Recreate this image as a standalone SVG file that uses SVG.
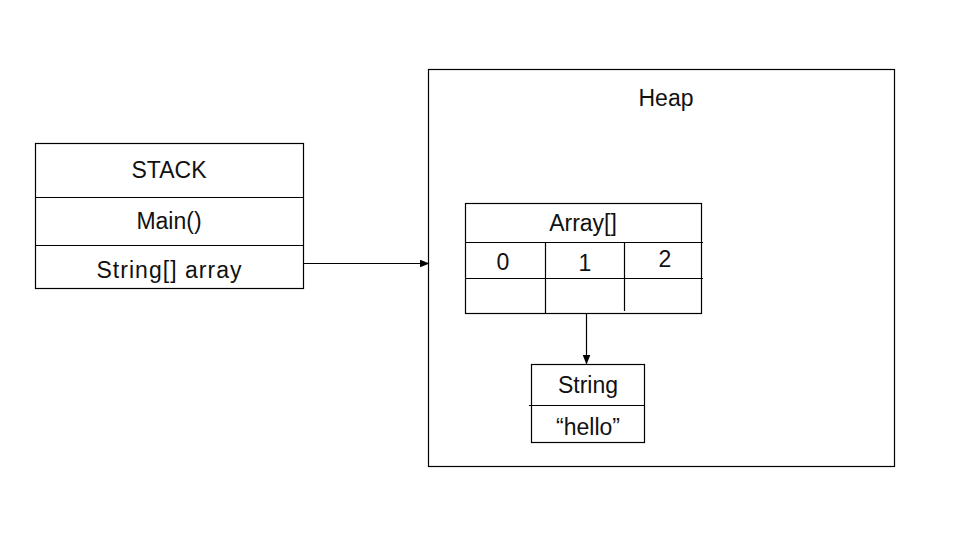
<svg xmlns="http://www.w3.org/2000/svg" width="971" height="548" viewBox="0 0 971 548">
<style>
.b{fill:#fff;stroke:#000;stroke-width:1.2}
.l{stroke:#000;stroke-width:1.2;fill:none}
text{font-family:"Liberation Sans","Noto Sans CJK SC",sans-serif;font-size:23px;fill:#111;text-anchor:middle}
</style>
<defs>
<marker id="ah" markerWidth="10" markerHeight="8" refX="9" refY="4" orient="auto" markerUnits="userSpaceOnUse">
<path d="M0,0 L10,4 L0,8 Z" fill="#000"/>
</marker>
</defs>
<rect width="971" height="548" fill="#fff"/>
<g id="heap">
<rect class="b" x="428.5" y="69.5" width="466" height="397"/>
<text x="666" y="106">Heap</text>
</g>
<g id="stack">
<rect class="b" x="35.5" y="143.5" width="268" height="145"/>
<line class="l" x1="35.5" y1="197.5" x2="303.5" y2="197.5"/>
<line class="l" x1="35.5" y1="245.5" x2="303.5" y2="245.5"/>
<text x="169" y="178">STACK</text>
<text x="169" y="229">Main()</text>
<text x="169" y="278" textLength="145" lengthAdjust="spacing">String[] array</text>
</g>
<g id="array">
<rect class="b" x="465.5" y="203.5" width="236" height="110"/>
<line class="l" x1="465.5" y1="242.5" x2="703" y2="242.5"/>
<line class="l" x1="465.5" y1="278.5" x2="703" y2="278.5"/>
<line class="l" x1="545.5" y1="242.5" x2="545.5" y2="313.5"/>
<line class="l" x1="624.5" y1="242.5" x2="624.5" y2="311"/>
<text x="583" y="231">Array[]</text>
<text x="503" y="270">0</text>
<text x="585" y="271">1</text>
<text x="665" y="267">2</text>
</g>
<g id="string">
<rect class="b" x="531.5" y="364.5" width="113" height="78"/>
<line class="l" x1="529" y1="405.5" x2="644.5" y2="405.5"/>
<text x="588" y="393">String</text>
<text x="588" y="435">“hello”</text>
</g>
<g id="connectors">
<line class="l" x1="303.5" y1="263.5" x2="428.5" y2="263.5" marker-end="url(#ah)"/>
<line class="l" x1="586.5" y1="314" x2="586.5" y2="363.5" marker-end="url(#ah)"/>
</g>
</svg>
